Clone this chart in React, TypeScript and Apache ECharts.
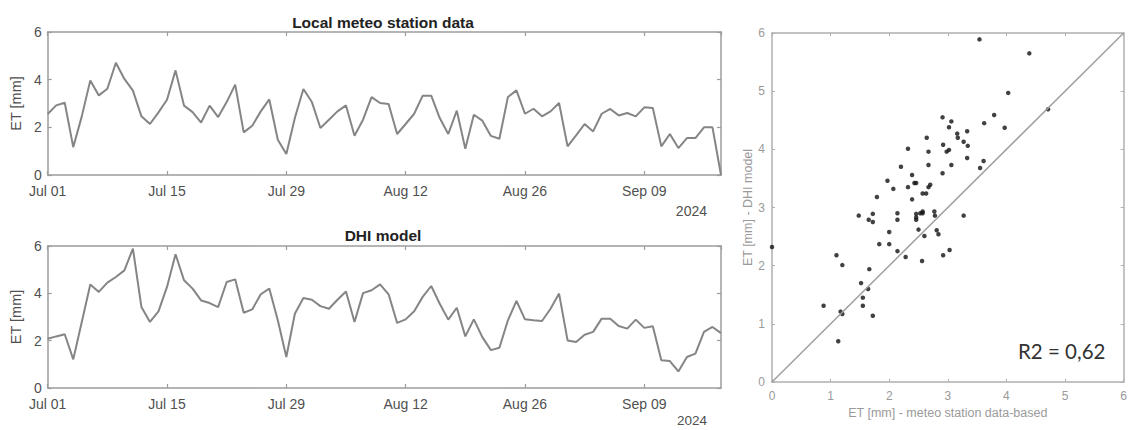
import React, { useEffect, useRef } from "react";
import * as echarts from "echarts";

// Daily ET [mm], Jul 01 .. Sep 18 2024 (80 days)
const meteoET = [
  2.56, 2.92, 3.03, 1.17, 2.46, 3.97, 3.34, 3.62, 4.71, 4.03,
  3.54, 2.46, 2.14, 2.63, 3.16, 4.39, 2.91, 2.64, 2.2, 2.91,
  2.43, 3.06, 3.79, 1.79, 2.07, 2.67, 3.17, 1.48, 0.88, 2.39,
  3.61, 3.06, 1.97, 2.32, 2.67, 2.92, 1.65, 2.32, 3.27, 3.02,
  2.98, 1.72, 2.14, 2.57, 3.33, 3.33, 2.39, 1.72, 2.7, 1.1,
  2.53, 2.28, 1.64, 1.52, 3.27, 3.55, 2.57, 2.78, 2.46, 2.67,
  3.02, 1.2, 1.66, 2.14, 1.83, 2.57, 2.77, 2.5, 2.6, 2.46,
  2.84, 2.81, 1.2, 1.72, 1.13, 1.55, 1.55, 2.0, 2.0, 0,
];

const dhiET = [
  2.08, 2.18, 2.27, 1.21, 2.79, 4.37, 4.06, 4.45, 4.69, 4.97,
  5.89, 3.42, 2.79, 3.24, 4.27, 5.65, 4.55, 4.2, 3.7, 3.59,
  3.42, 4.48, 4.59, 3.18, 3.32, 3.96, 4.2, 2.86, 1.31, 3.14,
  3.8, 3.73, 3.46, 3.35, 3.73, 4.08, 2.79, 4.01, 4.13, 4.38,
  3.96, 2.75, 2.9, 3.24, 3.85, 4.31, 3.56, 2.89, 3.39, 2.18,
  2.9, 2.15, 1.6, 1.7, 2.86, 3.68, 2.9, 2.86, 2.83, 3.35,
  3.99, 2.01, 1.94, 2.25, 2.37, 2.93, 2.93, 2.62, 2.51, 2.89,
  2.54, 2.61, 1.17, 1.14, 0.7, 1.31, 1.45, 2.37, 2.58, 2.32,
];

const dateTicks = ["Jul 01", "Jul 15", "Jul 29", "Aug 12", "Aug 26", "Sep 09"];
const tickStepDays = 14;
const lastDay = 79;
const yearLabel = "2024";
const diagonal = [
  [0, 0],
  [6, 6],
];
const r2Label = "R2 = 0,62";

const FONT = '"Liberation Sans", Arial, sans-serif';
const FRAME = "#9c9c9c";
const TXT = "#505050";
const LIGHT = "#9a9a9a";

function tsX(gridIndex: number, top: boolean) {
  return {
    type: "value",
    gridIndex,
    position: top ? "top" : "bottom",
    min: 0,
    max: lastDay,
    interval: tickStepDays,
    axisLine: { show: true, onZero: false, lineStyle: { color: FRAME, width: 1.5 } },
    axisTick: { show: true, inside: true, length: 4, lineStyle: { color: FRAME, width: 1.2 } },
    axisLabel: {
      show: !top,
      color: TXT,
      fontSize: 14,
      fontFamily: FONT,
      margin: 9,
      showMaxLabel: false,
      formatter: (v: number) => (v % tickStepDays === 0 ? dateTicks[v / tickStepDays] ?? "" : ""),
    },
    splitLine: { show: false },
  };
}

function tsY(gridIndex: number, right: boolean) {
  return {
    type: "value",
    gridIndex,
    position: right ? "right" : "left",
    min: 0,
    max: 6,
    interval: 2,
    name: right ? "" : "ET [mm]",
    nameLocation: "middle",
    nameGap: 19,
    nameTextStyle: { color: TXT, fontSize: 14.5, fontFamily: FONT },
    axisLine: { show: true, onZero: false, lineStyle: { color: FRAME, width: 1.5 } },
    axisTick: { show: true, inside: true, length: 4, lineStyle: { color: FRAME, width: 1.2 } },
    axisLabel: { show: !right, color: TXT, fontSize: 14, fontFamily: FONT, margin: 6 },
    splitLine: { show: false },
  };
}

function scX(top: boolean) {
  return {
    type: "value",
    gridIndex: 2,
    position: top ? "top" : "bottom",
    min: 0,
    max: 6,
    interval: 1,
    name: top ? "" : "ET [mm] - meteo station data-based",
    nameLocation: "middle",
    nameGap: 23,
    nameTextStyle: { color: LIGHT, fontSize: 12.5, fontFamily: FONT },
    axisLine: { show: true, onZero: false, lineStyle: { color: "#b0b0b0", width: 1.5 } },
    axisTick: { show: true, inside: true, length: 3, lineStyle: { color: "#b0b0b0" } },
    axisLabel: { show: !top, color: LIGHT, fontSize: 12, fontFamily: FONT, margin: 8 },
    splitLine: { show: false },
  };
}

function scY(right: boolean) {
  return {
    type: "value",
    gridIndex: 2,
    position: right ? "right" : "left",
    min: 0,
    max: 6,
    interval: 1,
    name: right ? "" : "ET [mm] - DHI model",
    nameLocation: "middle",
    nameGap: 16,
    nameTextStyle: { color: LIGHT, fontSize: 12.5, fontFamily: FONT },
    axisLine: { show: true, onZero: false, lineStyle: { color: "#b0b0b0", width: 1.5 } },
    axisTick: { show: true, inside: true, length: 3, lineStyle: { color: "#b0b0b0" } },
    axisLabel: { show: !right, color: LIGHT, fontSize: 12, fontFamily: FONT, margin: 7 },
    splitLine: { show: false },
  };
}

function txt(text: string, x: number, y: number, font: string, fill: string, align: string) {
  return {
    type: "text",
    x,
    y,
    silent: true,
    style: {
      text,
      font,
      fill,
      align,
      verticalAlign: "middle",
      textAlign: align,
      textVerticalAlign: "middle",
    },
  };
}

export default function App() {
  const ref = useRef<HTMLDivElement>(null);

  useEffect(() => {
    if (!ref.current) return;
    const chart = echarts.init(ref.current, undefined, { renderer: "svg" });
    const option = {
      animation: false,
      backgroundColor: "#ffffff",
      grid: [
        { left: 45, top: 32, width: 676, height: 143 },
        { left: 45, top: 246, width: 676, height: 142 },
        { left: 772, top: 33, width: 357, height: 349 },
      ],
      xAxis: [tsX(0, false), tsX(0, true), tsX(1, false), tsX(1, true), scX(false), scX(true)],
      yAxis: [tsY(0, false), tsY(0, true), tsY(1, false), tsY(1, true), scY(false), scY(true)],
      series: [
        {
          type: "line",
          xAxisIndex: 0,
          yAxisIndex: 0,
          data: meteoET.map((v, i) => [i, v]),
          showSymbol: false,
          lineStyle: { color: "#858585", width: 2 },
        },
        {
          type: "line",
          xAxisIndex: 2,
          yAxisIndex: 2,
          data: dhiET.map((v, i) => [i, v]),
          showSymbol: false,
          lineStyle: { color: "#858585", width: 2 },
        },
        {
          type: "line",
          xAxisIndex: 4,
          yAxisIndex: 4,
          data: diagonal,
          showSymbol: false,
          lineStyle: { color: "#a0a0a0", width: 1.5 },
        },
        {
          type: "scatter",
          xAxisIndex: 4,
          yAxisIndex: 4,
          data: meteoET.map((v, i) => [v, dhiET[i]]),
          symbol: "circle",
          symbolSize: 4.5,
          itemStyle: { color: "#111111" },
        },
      ],
      graphic: [
        txt("Local meteo station data", 383, 22, `bold 15.5px ${FONT}`, "#222", "center"),
        txt("DHI model", 383, 235, `bold 15.5px ${FONT}`, "#222", "center"),
        txt(yearLabel, 707, 211, `14px ${FONT}`, TXT, "right"),
        txt(yearLabel, 707, 420, `13.5px ${FONT}`, TXT, "right"),
        txt(r2Label, 1018, 351, `20.5px Lato, "Open Sans", sans-serif`, "#333", "left"),
      ],
    };
    chart.setOption(option as any);
    return () => chart.dispose();
  }, []);

  return (
    <div
      ref={ref}
      style={{ position: "absolute", left: 0, top: 0, width: 1130, height: 430, background: "#fff" }}
    />
  );
}
